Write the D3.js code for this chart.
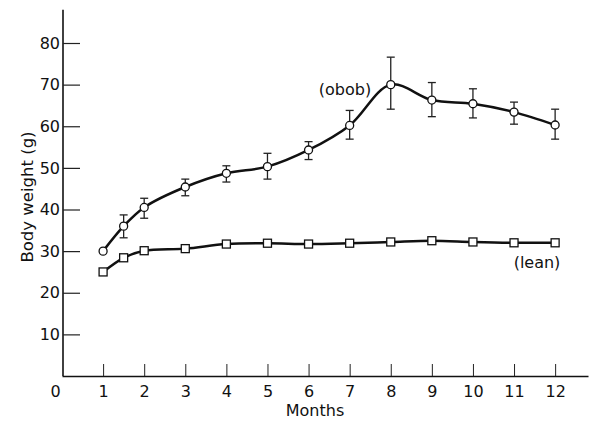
<!DOCTYPE html>
<html><head><meta charset="utf-8">
<script src="https://cdn.jsdelivr.net/npm/d3@7"></script>
<style>
html,body{margin:0;padding:0;background:#fff;}
svg text{font-family:"DejaVu Sans",sans-serif;fill:#111;}
</style></head>
<body>
<svg id="chart" width="592" height="422"></svg>
<script>
// ---- data ----
const months = [1, 1.5, 2, 3, 4, 5, 6, 7, 8, 9, 10, 11, 12];
const obob = [30, 36, 40.5, 45.4, 48.7, 50.3, 54.3, 60.2, 70, 66.3, 65.4, 63.4, 60.3];
const obobErrHigh = [null, 38.7, 42.7, 47.3, 50.5, 53.5, 56.3, 63.8, 76.6, 70.5, 69, 65.8, 64.1];
const obobErrLow = [null, 33.2, 37.9, 43.3, 46.6, 47.3, 52, 56.9, 64.1, 62.3, 62, 60.5, 56.9];
const lean = [25, 28.4, 30.1, 30.6, 31.7, 31.9, 31.7, 31.9, 32.2, 32.5, 32.2, 32, 32];
const xTicks = [0, 1, 2, 3, 4, 5, 6, 7, 8, 9, 10, 11, 12];
const yTicks = [10, 20, 30, 40, 50, 60, 70, 80];
const seriesLabels = ["(obob)", "(lean)"];
const xTitle = "Months";
const yTitle = "Body weight (g)";

const svg = d3.select("#chart");
const x = d3.scaleLinear().domain([0, 12.8]).range([62, 588]);
const y = d3.scaleLinear().domain([0, 88]).range([376, 9.7]);

// x axis
const xAxis = svg.append("g").attr("transform", `translate(0,${y(0)})`)
  .call(d3.axisBottom(x).tickValues(xTicks).tickSizeInner(-12).tickSizeOuter(0).tickFormat(d3.format("d")));
xAxis.select(".domain").attr("stroke", "#111").attr("stroke-width", 1.6);
xAxis.selectAll(".tick line").attr("stroke", "#222").attr("stroke-width", 1)
  .attr("display", d => d === 0 ? "none" : null);
xAxis.selectAll(".tick text").attr("y", 10).attr("dy", "0.71em").attr("font-size", 16)
  .attr("x", d => d === 0 ? -7 : 0);

// y axis
const yAxis = svg.append("g").attr("transform", `translate(${x(0) + 1},0)`)
  .call(d3.axisLeft(y).tickValues(yTicks).tickSizeInner(-17).tickSizeOuter(0).tickPadding(3));
yAxis.select(".domain").attr("stroke", "#111").attr("stroke-width", 1.6)
  .attr("d", `M0,${y(0)}V${y(88)}`);
yAxis.selectAll(".tick line").attr("stroke", "#222").attr("stroke-width", 1.2);
yAxis.selectAll(".tick text").attr("font-size", 16);

svg.selectAll(".domain").attr("fill", "none");
svg.selectAll(".tick text").attr("fill", "#111").attr("font-family", "DejaVu Sans");

// titles
svg.append("text").attr("x", 315).attr("y", 416).attr("text-anchor", "middle").attr("font-size", 16).text(xTitle);
svg.append("text").attr("transform", `translate(33,${y(43)}) rotate(-90)`).attr("text-anchor", "middle")
  .attr("font-size", 16.5).text(yTitle);

// lines
const line = d3.line().x((d, i) => x(months[i])).y(d => y(d)).curve(d3.curveCatmullRom.alpha(0.5));
svg.append("path").datum(obob).attr("d", line).attr("fill", "none").attr("stroke", "#111").attr("stroke-width", 2.5);
svg.append("path").datum(lean).attr("d", line).attr("fill", "none").attr("stroke", "#111").attr("stroke-width", 2.5);

// error bars
const eb = svg.append("g").attr("stroke", "#222").attr("stroke-width", 1.3);
months.forEach((m, i) => {
  if (obobErrHigh[i] == null) return;
  const cx = x(m);
  eb.append("line").attr("x1", cx).attr("x2", cx).attr("y1", y(obobErrHigh[i])).attr("y2", y(obobErrLow[i]));
  eb.append("line").attr("x1", cx - 4).attr("x2", cx + 4).attr("y1", y(obobErrHigh[i])).attr("y2", y(obobErrHigh[i]));
  eb.append("line").attr("x1", cx - 4).attr("x2", cx + 4).attr("y1", y(obobErrLow[i])).attr("y2", y(obobErrLow[i]));
});

// markers
svg.append("g").selectAll("circle").data(obob).join("circle")
  .attr("cx", (d, i) => x(months[i])).attr("cy", d => y(d)).attr("r", 4)
  .attr("fill", "#fff").attr("stroke", "#111").attr("stroke-width", 1.3);
svg.append("g").selectAll("rect").data(lean).join("rect")
  .attr("x", (d, i) => x(months[i]) - 4).attr("y", d => y(d) - 4).attr("width", 8).attr("height", 8)
  .attr("fill", "#fff").attr("stroke", "#111").attr("stroke-width", 1.3);

// series labels
svg.append("text").attr("x", 345).attr("y", 95).attr("text-anchor", "middle").attr("font-size", 16).text(seriesLabels[0]);
svg.append("text").attr("x", 537).attr("y", 268).attr("text-anchor", "middle").attr("font-size", 16).text(seriesLabels[1]);
</script>
</body></html>
